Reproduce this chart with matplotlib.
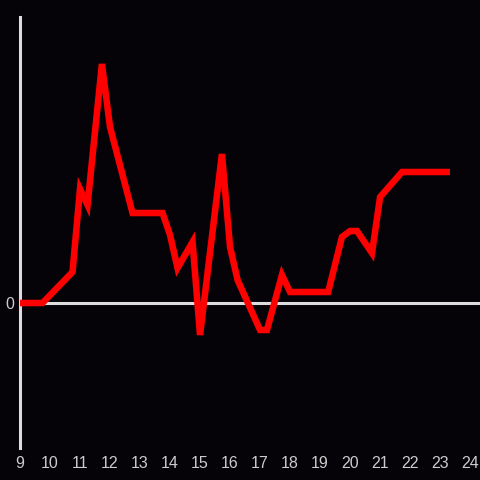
import matplotlib
matplotlib.use("Agg")
import matplotlib.pyplot as plt

# hours of day (decimal) and values
hours = [9, 9.75, 10.75, 11, 11.25, 11.73, 12, 12.75, 13.75, 14, 14.25, 14.75,
         15, 15.73, 16, 16.25, 17, 17.23, 17.73, 18, 19.27, 19.73, 20, 20.23,
         20.73, 21, 21.73, 23.33]
values = [0, 0, 31, 114, 98, 239, 176, 90, 90, 68, 35, 61,
          -32, 149, 56, 23, -27, -27, 28, 11, 11, 66, 72, 72,
          50, 106, 131, 131]
xticks = list(range(9, 25))

bg = '#050308'
fig = plt.figure(figsize=(4.8, 4.8), dpi=100, facecolor=bg)
ax = fig.add_axes([20/480, 32/480, 460/480, 431/480], facecolor=bg)

ax.axhline(0, color='#dddddd', lw=2.2, zorder=1)
ax.plot(hours, values, color='#ff0000', lw=4.7, solid_joinstyle='miter',
        solid_capstyle='butt', zorder=3, clip_on=False)

ax.set_xlim(9, 24.33)
ax.set_ylim(-145, 286)
for s in ['top', 'right', 'bottom']:
    ax.spines[s].set_visible(False)
ax.spines['left'].set_color('#dddddd')
ax.spines['left'].set_linewidth(2.2)
ax.spines['left'].set_zorder(2)

ax.set_xticks(xticks)
ax.set_xticklabels([str(t) for t in xticks])
ax.set_yticks([0])
ax.set_yticklabels(['0'])
ax.tick_params(length=0, colors='#cccccc', labelsize=11.5, pad=4)
ax.tick_params(axis='x', pad=6)
for lab in ax.get_xticklabels() + ax.get_yticklabels():
    lab.set_family('Liberation Sans')

fig.savefig('out.png', dpi=100, facecolor=bg)
